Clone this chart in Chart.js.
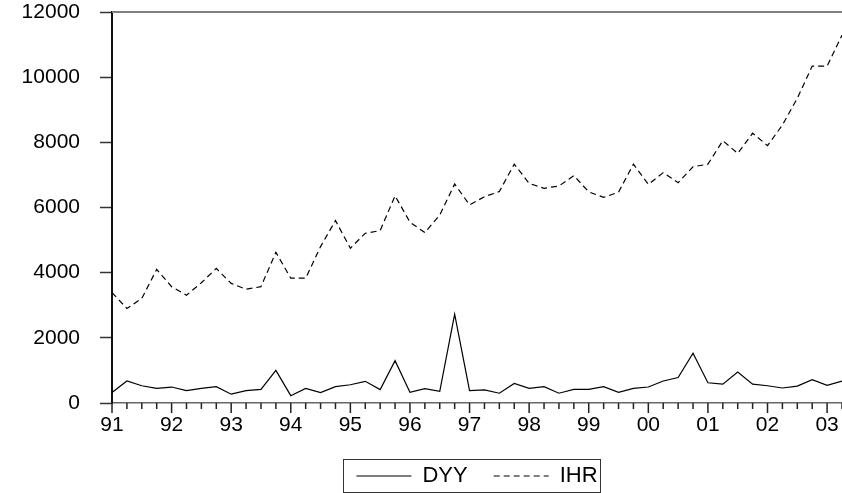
<!DOCTYPE html>
<html>
<head>
<meta charset="utf-8">
<script src="https://cdn.jsdelivr.net/npm/chart.js@4.4.1/dist/chart.umd.min.js"></script>
<style>
  html, body { margin:0; padding:0; background:#fff; }
  #wrap { width:842px; height:493px; }
</style>
</head>
<body>
<div id="wrap"><canvas id="c" width="842" height="493"></canvas></div>
<script>
// quarterly series, 1991Q1 .. 2003Q2
const yearLabels = ['91','92','93','94','95','96','97','98','99','00','01','02','03'];
const quarterCount = 50;

const DYY = [320, 675, 530, 450, 490, 380, 450, 500, 270, 380,
             420, 1000, 225, 450, 320, 500, 560, 665, 410, 1300,
             330, 440, 360, 2730, 380, 400, 300, 600, 450, 500,
             300, 420, 420, 500, 330, 450, 490, 675, 780, 1525,
             620, 580, 950, 580, 530, 460, 520, 715, 540, 675];

const IHR = [3390, 2900, 3210, 4100, 3570, 3310, 3690, 4130, 3670, 3490,
             3570, 4625, 3830, 3830, 4800, 5600, 4750, 5210, 5290, 6360,
             5550, 5230, 5770, 6720, 6080, 6330, 6490, 7330, 6740, 6590,
             6660, 6980, 6480, 6310, 6470, 7330, 6710, 7070, 6760, 7250,
             7330, 8050, 7660, 8280, 7900, 8530, 9350, 10340, 10340, 11290];

const yTicks = [0, 2000, 4000, 6000, 8000, 10000, 12000];

const quarters = [];
for (let i = 0; i < quarterCount; i++) quarters.push(yearLabels[Math.floor(i/4)] + 'Q' + (i%4+1));

const FONT = "'Liberation Sans', Arial, sans-serif";

// no extra room for overflowing tick labels
function noPad(s){ s.paddingTop = 0; s.paddingBottom = 0; s.paddingLeft = 0; s.paddingRight = 0; }

// quarter tick marks (long ones on years), top frame line, box round the legend
const framePlugin = {
  id: 'frame',
  afterDraw(chart){
    const ctx = chart.ctx, a = chart.chartArea, xs = chart.scales.x;
    ctx.save();
    ctx.strokeStyle = '#808080';
    ctx.lineWidth = 2;
    ctx.beginPath(); ctx.moveTo(a.left, a.top); ctx.lineTo(a.right, a.top); ctx.stroke();

    ctx.strokeStyle = '#222';
    ctx.lineWidth = 1.5;
    xs.ticks.forEach((t, i) => {
      const x = xs.getPixelForTick(i);
      ctx.beginPath();
      ctx.moveTo(x, xs.top);
      ctx.lineTo(x, xs.top + (i % 4 === 0 ? 10 : 6));
      ctx.stroke();
    });

    const hb = chart.legend.legendHitBoxes;
    if(hb && hb.length){
      const l = Math.min(...hb.map(b=>b.left)) - 13;
      const r = Math.max(...hb.map(b=>b.left+b.width)) + 3;
      const t = Math.min(...hb.map(b=>b.top)) - 6;
      const btm = Math.max(...hb.map(b=>b.top+b.height)) + 5;
      ctx.strokeStyle = '#333';
      ctx.lineWidth = 1;
      ctx.strokeRect(Math.round(l)+0.5, Math.round(t)+0.5, Math.round(r-l), Math.round(btm-t));
    }
    ctx.restore();
  }
};

new Chart(document.getElementById('c'), {
  type: 'line',
  data: {
    labels: quarters,
    datasets: [
      { label: 'DYY', data: DYY, borderColor: '#000', borderWidth: 1.2, pointRadius: 0, tension: 0, fill: false },
      { label: 'IHR', data: IHR, borderColor: '#000', borderWidth: 1.2, borderDash: [6,4], pointRadius: 0, tension: 0, fill: false }
    ]
  },
  options: {
    responsive: false,
    animation: false,
    devicePixelRatio: 1,
    layout: { padding: { top: 12, left: 0, right: 0, bottom: 4 } },
    plugins: {
      tooltip: { enabled: false },
      legend: {
        position: 'bottom',
        fullSize: false,
        maxHeight: 50,
        labels: {
          usePointStyle: true,
          pointStyle: 'line',
          pointStyleWidth: 55,
          padding: 26,
          color: '#000',
          font: { family: FONT, size: 22 },
          generateLabels(chart){
            const items = Chart.defaults.plugins.legend.labels.generateLabels(chart);
            items.forEach(it => {
              const ds = chart.data.datasets[it.datasetIndex];
              it.lineDash = ds.borderDash || [];
              it.lineWidth = ds.borderWidth;
              it.strokeStyle = ds.borderColor;
              it.pointStyle = 'line';
            });
            return items;
          }
        }
      }
    },
    scales: {
      x: {
        type: 'category',
        offset: false,
        grid: { display: false, drawTicks: false },
        border: { display: true, color: '#666', width: 1.5 },
        ticks: {
          autoSkip: false, maxRotation: 0, minRotation: 0, padding: 10,
          color: '#000', font: { family: FONT, size: 21 },
          callback: (v, i) => i % 4 === 0 ? yearLabels[i/4] : ''
        },
        afterFit(s){ s.height = 36; noPad(s); }
      },
      y: {
        min: 0, max: 12000,
        afterBuildTicks(s){ s.ticks = yTicks.map(v => ({ value: v })); },
        grid: { drawOnChartArea: false, drawTicks: true, tickLength: 12, color: '#333', tickWidth: 1.5 },
        border: { display: true, color: '#111', width: 2 },
        ticks: {
          padding: 20, color: '#000', font: { family: FONT, size: 21 },
          callback: v => String(v)
        },
        afterFit(s){ s.width = 112; noPad(s); }
      }
    }
  },
  plugins: [framePlugin]
});
</script>
</body>
</html>
